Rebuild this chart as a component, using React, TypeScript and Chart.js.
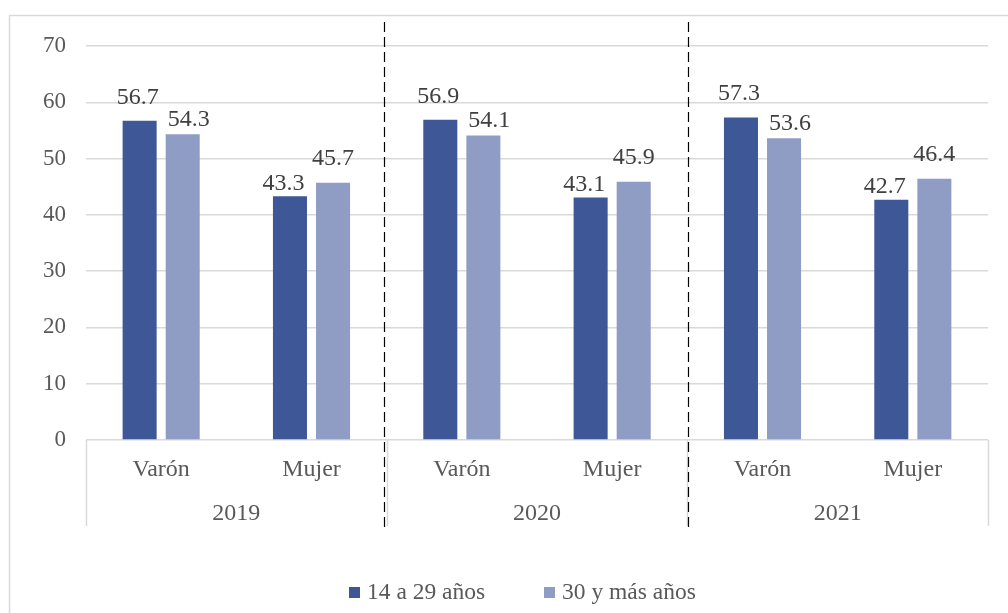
import React, { useEffect, useRef } from "react";
import { Chart, registerables } from "chart.js";

Chart.register(...registerables);

const CATEGORIES = ["Varón", "Mujer", "Varón", "Mujer", "Varón", "Mujer"];
const YEARS = ["2019", "2020", "2021"];
const SERIES = ["14 a 29 años", "30 y más años"];
const YOUNG = [56.7, 43.3, 56.9, 43.1, 57.3, 42.7];
const OLDER = [54.3, 45.7, 54.1, 45.9, 53.6, 46.4];
const Y_TICKS = [0, 10, 20, 30, 40, 50, 60, 70];

const DARK = "#3E5897";
const LIGHT = "#8F9DC4";
const FONT = '"Liberation Serif", "Times New Roman", serif';
const GRID = "#d9d9d9";

// label offsets per [series][gender index] : [dx, dy above bar top]
const LABEL_OFFSETS = [
  [[-2, 17], [-6.5, 6.5]],
  [[6, 8.5], [0, 18]],
];

const overlay = {
  id: "overlay",
  afterDraw(chart: any) {
    const ctx = chart.ctx as CanvasRenderingContext2D;
    const area = chart.chartArea;
    const xs = chart.scales.x;
    ctx.save();

    // outer frame
    ctx.strokeStyle = GRID;
    ctx.lineWidth = 1.5;
    ctx.strokeRect(9.5, 15.5, 1100, 700);

    // group boundaries
    const n = CATEGORIES.length;
    const step = (area.right - area.left) / n;
    const bounds: number[] = [];
    for (let g = 0; g <= YEARS.length; g++) bounds.push(area.left + g * 2 * step);

    ctx.strokeStyle = GRID;
    ctx.lineWidth = 1.5;
    bounds.forEach((b) => {
      ctx.beginPath();
      ctx.moveTo(Math.round(b) + 0.5, area.bottom);
      ctx.lineTo(Math.round(b) + 0.5, area.bottom + 86);
      ctx.stroke();
    });

    // category labels
    ctx.fillStyle = "#595959";
    ctx.font = `24px ${FONT}`;
    ctx.textAlign = "center";
    ctx.textBaseline = "alphabetic";
    CATEGORIES.forEach((c, i) => {
      ctx.fillText(c, xs.getPixelForValue(i), area.bottom + 36);
    });
    YEARS.forEach((y, g) => {
      ctx.fillText(y, (bounds[g] + bounds[g + 1]) / 2, area.bottom + 80);
    });

    // dashed separators
    ctx.strokeStyle = "#000";
    ctx.lineWidth = 1.2;
    ctx.setLineDash([10, 5]);
    const dashShift = [-3, 0.5];
    for (let g = 1; g < YEARS.length; g++) {
      const x = Math.round(bounds[g] + dashShift[g - 1]) + 0.5;
      ctx.beginPath();
      ctx.moveTo(x, 22);
      ctx.lineTo(x, area.bottom + 90);
      ctx.stroke();
    }
    ctx.setLineDash([]);

    // data labels
    ctx.fillStyle = "#404040";
    ctx.font = `24px ${FONT}`;
    ctx.textAlign = "center";
    chart.data.datasets.forEach((ds: any, si: number) => {
      const meta = chart.getDatasetMeta(si);
      meta.data.forEach((bar: any, j: number) => {
        const [dx, dy] = LABEL_OFFSETS[si][j % 2];
        ctx.fillText(ds.data[j].toFixed(1), bar.x + dx, bar.y - dy);
      });
    });

    // legend
    ctx.font = `23.5px ${FONT}`;
    ctx.textAlign = "left";
    ctx.textBaseline = "alphabetic";
    const colors = [DARK, LIGHT];
    const starts = [349, 544];
    SERIES.forEach((s, i) => {
      ctx.fillStyle = colors[i];
      ctx.fillRect(starts[i], 587, 11, 11);
      ctx.fillStyle = "#595959";
      ctx.fillText(s, starts[i] + 18, 599);
    });

    ctx.restore();
  },
};

export default function App() {
  const ref = useRef<HTMLCanvasElement>(null);
  useEffect(() => {
    if (!ref.current) return;
    const chart = new Chart(ref.current, {
      type: "bar",
      data: {
        labels: CATEGORIES,
        datasets: [
          { label: SERIES[0], data: YOUNG, backgroundColor: DARK, categoryPercentage: 0.573, barPercentage: 0.79 },
          { label: SERIES[1], data: OLDER, backgroundColor: LIGHT, categoryPercentage: 0.573, barPercentage: 0.79 },
        ],
      },
      options: {
        animation: false,
        responsive: false,
        layout: { padding: { top: 46, right: 20, bottom: 173, left: 0 } },
        plugins: { legend: { display: false }, tooltip: { enabled: false } },
        scales: {
          x: { display: false },
          y: {
            min: 0,
            max: 70,
            afterBuildTicks: (s: any) => {
              s.ticks = Y_TICKS.map((v) => ({ value: v }));
            },
            afterFit: (s: any) => {
              s.width = 86;
            },
            ticks: { padding: 20, color: "#595959", font: { family: FONT, size: 23 } },
            grid: { color: GRID, lineWidth: 1.5, drawTicks: false },
            border: { display: false },
          },
        },
      },
      plugins: [overlay],
    });
    return () => chart.destroy();
  }, []);
  return (
    <div style={{ position: "fixed", left: 0, top: 0, width: 1008, height: 613, background: "#fff" }}>
      <canvas ref={ref} width={1008} height={613} style={{ display: "block" }} />
    </div>
  );
}
